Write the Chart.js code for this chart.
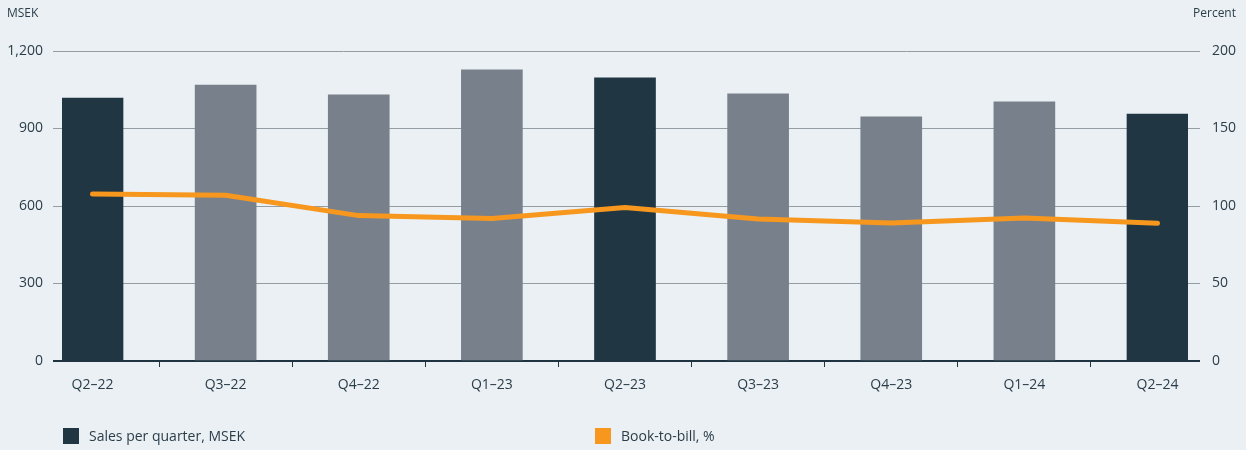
<!DOCTYPE html>
<html>
<head>
<meta charset="utf-8">
<script src="https://cdn.jsdelivr.net/npm/chart.js@4"></script>
<style>
  body { margin: 0; background: #eaf0f3; }
  #wrap { position: relative; width: 1246px; height: 450px; font-family: 'Open Sans', sans-serif; color: #2b3d49; }
  .unit { position: absolute; top: 4px; font-size: 12px; }
  .legend { position: absolute; top: 426px; font-size: 14px; display: flex; align-items: center; }
  .legend span.box { display: inline-block; width: 16px; height: 16px; margin-right: 10px; }
</style>
</head>
<body>
<div id="wrap">
  <canvas id="chart"></canvas>
  <div class="unit" style="left:7px">MSEK</div>
  <div class="unit" style="right:10px">Percent</div>
  <div class="legend" style="left:63px"><span class="box" style="background:#203642"></span>Sales per quarter, MSEK</div>
  <div class="legend" style="left:595px"><span class="box" style="background:#f7971e"></span>Book-to-bill, %</div>
</div>
<script>
var quarters = ['Q2–22', 'Q3–22', 'Q4–22', 'Q1–23', 'Q2–23', 'Q3–23', 'Q4–23', 'Q1–24', 'Q2–24'];
var sales = [1018, 1068, 1030, 1127, 1096, 1034, 945, 1003, 956];
var bookToBill = [107.7, 106.9, 93.8, 92.0, 99.1, 91.6, 89.0, 92.3, 88.8];
var salesTicks = [0, 300, 600, 900, 1200];
var percentTicks = [0, 50, 100, 150, 200];

document.addEventListener('DOMContentLoaded', function () {
    var textColor = '#2b3d49';
    var tickFont = { family: "'Open Sans', sans-serif", size: 14 };
    var darkLine = '#1f3340';
    var gridLine = '#949da4';

    function gridColor(c) { return c.tick && c.tick.value === 0 ? darkLine : gridLine; }
    function gridWidth(c) { return c.tick && c.tick.value === 0 ? 2 : 1; }

    var ctx = document.getElementById('chart').getContext('2d');
    new Chart(ctx, {
        type: 'bar',
        data: {
            datasets: [{
                type: 'line',
                label: 'Book-to-bill, %',
                data: quarters.map(function (q, i) { return { x: i, y: bookToBill[i] }; }),
                yAxisID: 'y1',
                borderColor: '#f7971e',
                borderWidth: 5,
                borderCapStyle: 'round',
                borderJoinStyle: 'round',
                pointRadius: 0,
                tension: 0,
                order: 0
            }, {
                label: 'Sales per quarter, MSEK',
                data: quarters.map(function (q, i) { return { x: i, y: sales[i] }; }),
                yAxisID: 'y',
                backgroundColor: quarters.map(function (q) { return q.indexOf('Q2') === 0 ? '#203642' : '#78818b'; }),
                borderWidth: 0,
                barThickness: 61,
                order: 1
            }]
        },
        options: {
            responsive: true,
            maintainAspectRatio: false,
            animation: false,
            layout: { padding: { top: 51, left: 0, right: 0, bottom: 0 } },
            plugins: { legend: { display: false }, tooltip: { enabled: false } },
            scales: {
                x: {
                    type: 'linear',
                    offset: false,
                    min: -0.2292,
                    max: 8.2292,
                    afterBuildTicks: function (s) { s.ticks = quarters.map(function (q, i) { return { value: i }; }); },
                    afterFit: function (s) { s.height = 89; },
                    border: { display: false },
                    grid: { drawOnChartArea: false, offset: true, tickLength: 6, color: darkLine },
                    ticks: {
                        autoSkip: false,
                        maxRotation: 0,
                        padding: 10,
                        color: textColor,
                        font: tickFont,
                        callback: function (v) { return quarters[v]; }
                    }
                },
                y: {
                    position: 'left',
                    min: 0,
                    max: 1200,
                    afterBuildTicks: function (s) { s.ticks = salesTicks.map(function (v) { return { value: v }; }); },
                    afterFit: function (s) { s.width = 62; },
                    border: { display: false },
                    grid: { tickLength: 9, color: gridColor, lineWidth: gridWidth },
                    ticks: { padding: 10, color: textColor, font: tickFont }
                },
                y1: {
                    position: 'right',
                    min: 0,
                    max: 200,
                    afterBuildTicks: function (s) { s.ticks = percentTicks.map(function (v) { return { value: v }; }); },
                    afterFit: function (s) { s.width = 58; },
                    border: { display: false },
                    grid: { drawOnChartArea: false, tickLength: 12, color: gridColor, lineWidth: gridWidth },
                    ticks: { padding: 12, color: textColor, font: tickFont }
                }
            }
        }
    });
});
</script>
</body>
</html>
